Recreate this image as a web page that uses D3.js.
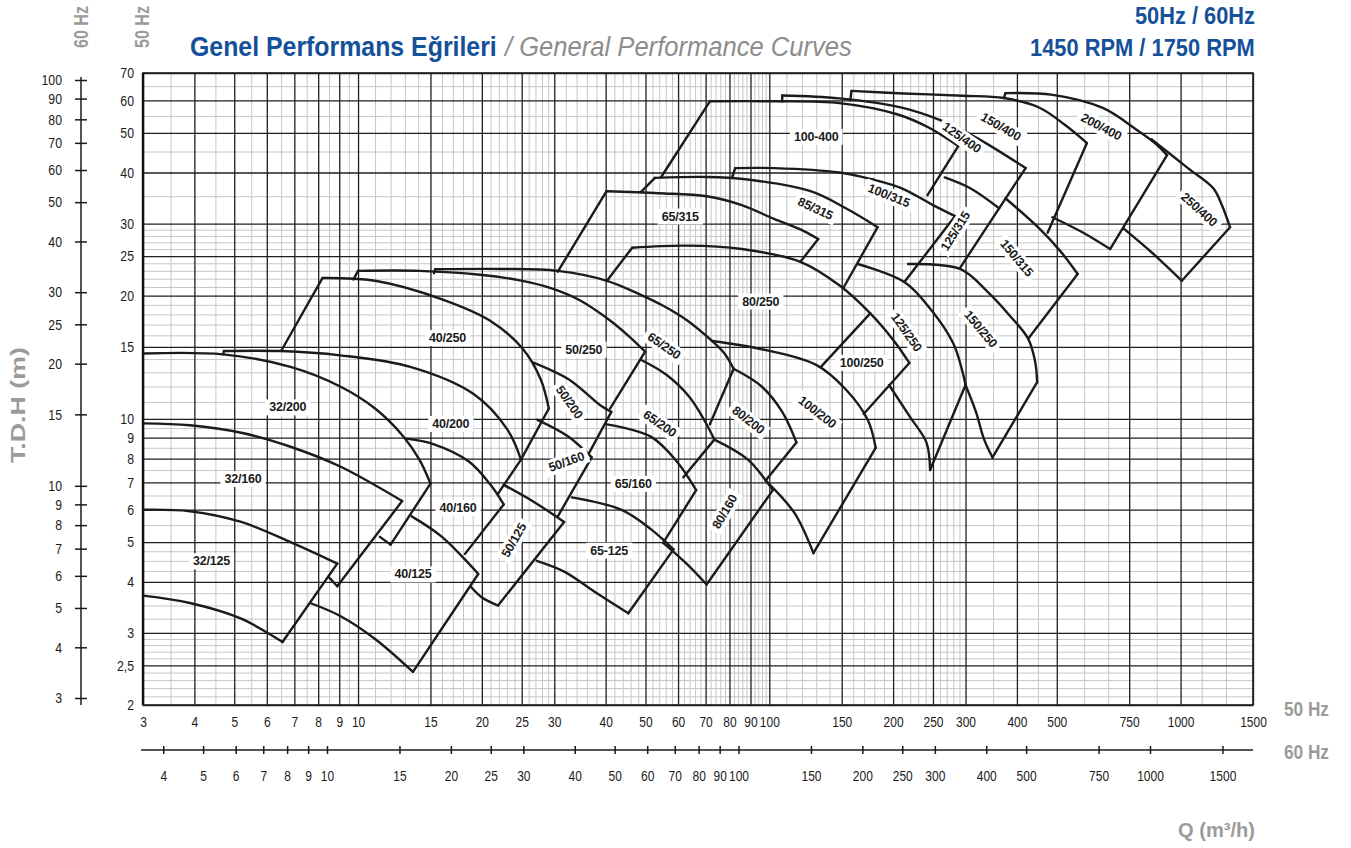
<!DOCTYPE html>
<html><head><meta charset="utf-8">
<script src="https://cdn.jsdelivr.net/npm/d3@7"></script>
<style>body{margin:0;background:#fff}</style>
</head><body>
<svg id="c" width="1351" height="848"></svg>
<script>
// ---------- DATA ----------
const xTicks50 = [3,4,5,6,7,8,9,10,15,20,25,30,40,50,60,70,80,90,100,150,200,250,300,400,500,750,1000,1500];
const yTicks50 = [2,2.5,3,4,5,6,7,8,9,10,15,20,25,30,40,50,60,70];
const xTicks60 = [4,5,6,7,8,9,10,15,20,25,30,40,50,60,70,80,90,100,150,200,250,300,400,500,750,1000,1500];
const yTicks60 = [3,4,5,6,7,8,9,10,15,20,25,30,40,50,60,70,80,90,100];
const xMinor = [3.5,4.5,5.5,6.5,7.5,8.5,9.5,11,12,13,14,16,17,18,19,21,22,23,24,26,27,28,29,
  32,34,36,38,42,44,46,48,52,54,56,58,62,64,66,68,72,74,76,78,82,84,86,88,92,94,96,98,
  110,120,130,140,160,170,180,190,210,220,230,240,260,270,280,290,350,450,583,667,875,1125,1290];
const yMinor = [2.1,2.2,2.3,2.4,2.6,2.7,2.8,2.9,3.25,3.5,3.75,4.25,4.5,4.75,5.5,6.5,7.5,8.5,9.5,
  11,12,13,14,16,17,18,19,21,22,23,24,26,27,28,29,35,45,55,65];

// H-Q curves (Q m3/h @50Hz, H m @50Hz)
const curves = [
  [[3,6.0],[3.9,5.95],[5.2,5.6],[6.85,5.0],[8.9,4.43]],
  [[3,3.7],[3.9,3.55],[5.2,3.25],[6.55,2.85]],
  [[3,9.75],[3.9,9.65],[5.2,9.25],[6.85,8.55],[9.05,7.65],[12.8,6.3]],
  [[3,14.45],[4.7,14.38],[6.85,13.4],[9.05,12.0],[11,10.6],[12.9,9.05],[14.1,7.95],[15,6.95]],
  [[4.72,14.65],[6.5,14.65],[9.05,14.3],[13.4,13.4],[19.1,11.5],[23.1,9.4],[24.9,7.95]],
  [[8.2,22.1],[11,21.75],[16,19.6],[21,17.35],[25.2,14.8],[27.8,12.5],[29.1,10.6]],
  [[13.1,8.95],[15.3,8.67],[18.6,7.87],[21,6.9],[22.6,6.18]],
  [[13.5,5.78],[16,5.15],[19.6,4.18]],
  [[7.65,3.55],[9.05,3.3],[11,2.9],[13.6,2.41]],
  [[10,23.0],[14.1,23.0],[19.8,22.5],[24.75,21.8],[29.3,20.9],[34.6,19.5],[41,17.4],[45.8,15.85],[49.9,14.6]],
  [[15.4,23.2],[22.25,23.25],[30.6,23.0],[40.3,21.75],[48.7,20.1],[55.2,18.9],[62.9,17.45],[72.6,15.5],[77.8,14.45],[81.9,13.26]],
  [[26.6,13.75],[32.5,12.5],[38.8,10.8],[41.3,10.4]],
  [[27.3,9.95],[32.5,9.05],[37,8.05]],
  [[22.6,6.9],[26.9,6.25],[31.7,5.6]],
  [[18.85,3.88],[20.1,3.65],[21.9,3.5]],
  [[48.7,13.95],[56,12.85],[64,11.3],[70,9.8],[73.5,8.9]],
  [[73.5,8.9],[88.6,7.96],[102,6.7]],
  [[40.3,9.7],[51.5,9.05],[59.7,7.85],[66.4,6.7]],
  [[33.1,6.43],[43.6,6.0],[51.5,5.38],[58.5,4.8]],
  [[27.2,4.5],[31.8,4.23],[37.6,3.78],[45.4,3.35]],
  [[55.2,4.98],[62.9,4.43],[70.4,3.94]],
  [[81.9,13.26],[95.8,12.0],[107.5,10.4],[116.4,8.76]],
  [[72.6,15.5],[95.8,14.8],[130,13.55],[153.5,11.8],[173.5,9.95],[181.4,8.5]],
  [[98,7.07],[115,5.9],[128,4.7]],
  [[46.4,26.2],[62.9,26.5],[85.7,26.0],[119,24.2],[148,21.2],[176,18.1],[201,15.5],[219,13.7]],
  [[40.2,36],[53.9,35.6],[70.4,35],[85.7,33.3],[102.7,30.8],[121,28.8],[131.5,27.5]],
  [[52.7,38.8],[70.4,39],[87.6,38.5],[126,36],[153.5,32.7],[183.4,29.4]],
  [[71.7,59.7],[102.7,59.7],[148,59.1],[204.5,55.5],[244,51.5],[288,46.4]],
  [[82.6,41],[102.7,41],[148,40],[177.5,38.5],[210,36.6],[250,33.3],[283,31.3]],
  [[107.5,61.7],[148,60.7],[210,57.6],[265,53.3],[324,48.2],[420,41]],
  [[267,38.9],[308,36.6],[362,32.7]],
  [[158.4,63.3],[212,62.4],[295,61.6],[372,60.8],[455,57.5],[523,52.3],[592,47.2]],
  [[375,34.6],[450,29.4],[510,25.7],[562,22.6]],
  [[375,62.5],[489,61.9],[647,57.5],[783,50.8],[866,47.2],[927,44.1]],
  [[851,48.2],[1042,41],[1201,36.6],[1260,33.3],[1319,29.4]],
  [[488,31.1],[580,28.5],[674,26]],
  [[726,29.2],[851,25.5],[1007,21.75]],
  [[164,23.9],[213,21.6],[246,18.6],[280,15.3],[294,13.2],[300,12.1]],
  [[195.5,12.1],[220,10.1],[241,8.76],[246,7.5]],
  [[217.5,23.9],[291,23.25],[340,20.4],[382,18],[426,15.7],[443,13.8],[448,12.3]],
  [[300,12.1],[318,10.4],[333,8.9],[349,8.05]]
];

// straight boundary lines of the operating ranges
const edges = [
  [[8.9,4.43],[6.55,2.85]], [[12.8,6.3],[8.9,3.9]], [[8.5,4.1],[8.9,3.9]],
  [[15,6.95],[12,4.93]], [[11.3,5.15],[12,4.93]], [[4.7,14.38],[4.72,14.65]],
  [[6.5,14.65],[8.2,22.1]], [[29.1,10.6],[24.9,7.95]], [[24.9,7.95],[21.9,6.57]],
  [[22.6,6.18],[18.2,4.68]], [[19.6,4.18],[13.6,2.41]], [[9.74,21.9],[10,23.0]],
  [[15.3,22.7],[15.4,23.2]], [[49.9,14.6],[41,10.6]], [[41.3,10.4],[36.5,8.27]],
  [[37,8.05],[30.6,5.78]], [[31.7,5.6],[21.9,3.5]], [[81.9,13.26],[71.7,9.7]],
  [[73.5,8.9],[61.8,7.2]], [[66.4,6.7],[55.2,4.98]], [[58.5,4.8],[45.4,3.35]],
  [[102,6.7],[70.4,3.94]], [[116.4,8.76],[98,7.07]], [[181.4,8.5],[128,4.7]],
  [[40.3,21.75],[46.4,26.2]], [[176,18.1],[133.5,13.4]], [[219,13.7],[169.6,10.28]],
  [[40.2,36],[30.6,22.9]], [[131.5,27.5],[119,24.2]], [[48.7,35.8],[52.7,38.8]],
  [[183.4,29.4],[151,20.8]], [[54.6,39],[71.7,59.7]], [[288,46.4],[242.5,35.2]],
  [[81.3,39],[82.6,41]], [[283,31.3],[213,21.6]], [[107.5,59.6],[107.5,61.7]],
  [[420,41],[362,32.7]], [[362,32.7],[291,23.4]], [[157.4,60],[158.4,63.3]],
  [[592,47.2],[475,28.5]], [[562,22.6],[426,15.7]], [[372,60.8],[375,62.5]],
  [[927,44.1],[674,26]], [[1319,29.4],[1007,21.75]], [[300,12.1],[246,7.5]],
  [[448,12.3],[349,8.05]]
];

// pump labels: name, Q, H, rotation
const labels = [
  ["32/125",4.4,4.5,0],["32/160",5.25,7.15,0],["32/200",6.75,10.7,0],
  ["40/250",16.5,15.8,0],["40/200",16.8,9.75,0],["40/160",17.5,6.07,0],["40/125",13.6,4.18,0],
  ["50/250",35.4,14.8,0],["50/200",32.7,11.0,55],["50/160",32.1,7.87,-20],["50/125",23.9,5.06,-60],
  ["65/250",55.5,15.1,35],["65/200",54.2,9.75,35],["65/160",46.7,6.96,0],["65-125",40.8,4.78,0],
  ["80/250",95.3,19.4,0],["80/200",89,9.95,38],["80/160",77.8,5.94,-60],
  ["100/200",131,10.4,38],["100/250",167.6,13.75,0],["125/250",216,16.3,55],["150/250",327,16.6,50],
  ["65/315",60.7,31.3,0],["85/315",129.5,32.7,25],["100/315",195.5,35.2,22],["125/315",283,28.8,-58],
  ["150/315",400,24.75,50],["100-400",130,49,0],["125/400",294,48.7,35],["150/400",366,51.8,30],
  ["200/400",642,51.8,28],["250/400",1111,32.5,42]
];

// ---------- DRAW ----------
const FONT = "'Liberation Sans',Arial,Helvetica,sans-serif";
const BLUE = "#15509a", GREY = "#9b9b9b", INK = "#1b1b1b";
const svg = d3.select('#c');
const x = d3.scaleLog().domain([3,1500]).range([143,1253]);
const y = d3.scaleLog().domain([2,70]).range([705,73]);
const x60 = d3.scaleLog().domain([10,1000]).range([327,1150]);
const y60 = d3.scaleLog().domain([3,100]).range([698,80]);
const plotH = y(2)-y(70), plotW = x(1500)-x(3);

svg.append('rect').attr('width',1351).attr('height',848).attr('fill','#fff');

function grid(vals, vertical, color, w){
  const g = svg.append('g');
  if(vertical){
    g.attr('transform',`translate(0,${y(2)})`)
     .call(d3.axisBottom(x).tickValues(vals).tickSize(-plotH).tickFormat(''));
  } else {
    g.attr('transform',`translate(${x(3)},0)`)
     .call(d3.axisLeft(y).tickValues(vals).tickSize(-plotW).tickFormat(''));
  }
  g.select('.domain').remove();
  g.selectAll('line').attr('stroke',color).attr('stroke-width',w);
}
grid(xMinor,true,'#c6c6c6',1);
grid(yMinor,false,'#c6c6c6',1);
grid(xTicks50,true,'#1f1f1f',1.3);
grid(yTicks50,false,'#1f1f1f',1.3);

svg.append('rect').attr('x',x(3)).attr('y',y(70)).attr('width',plotW).attr('height',plotH)
  .attr('fill','none').attr('stroke','#1f1f1f').attr('stroke-width',1.6);
svg.append('line').attr('x1',x(3)).attr('x2',x(3)).attr('y1',y(70)).attr('y2',y(2))
  .attr('stroke','#111').attr('stroke-width',2.4);

const line = d3.line().x(d=>x(d[0])).y(d=>y(d[1])).curve(d3.curveCatmullRom.alpha(0.5));
const lin = d3.line().x(d=>x(d[0])).y(d=>y(d[1]));
const cg = svg.append('g').attr('fill','none').attr('stroke',INK).attr('stroke-width',2.4)
  .attr('stroke-linejoin','round').attr('stroke-linecap','round');
cg.selectAll('path.c').data(curves).join('path').attr('class','c').attr('d',line);
cg.selectAll('path.e').data(edges).join('path').attr('class','e').attr('d',lin);

// labels
const lg = svg.append('g');
labels.forEach(([t,q,h,a])=>{
  const g = lg.append('g').attr('transform',`translate(${x(q)},${y(h)}) rotate(${a})`);
  const r = g.append('rect').attr('fill','#fff');
  const tx = g.append('text').text(t).attr('text-anchor','middle').attr('dy','0.36em')
    .attr('font-family',FONT).attr('font-weight','bold')
    .attr('font-size',12.5).attr('fill',INK).attr('letter-spacing',-0.2);
  const b = tx.node().getBBox();
  r.attr('x',b.x-4).attr('y',b.y-1).attr('width',b.width+8).attr('height',b.height+2);
});

// axes with condensed tick text
function squeezeTicks(g, s){
  g.selectAll('.tick text').attr('font-family',FONT).attr('font-size',15).attr('fill',INK)
   .each(function(){
     const el = d3.select(this);
     const xx = +el.attr('x') || 0;
     el.attr('x', xx/s).attr('transform',`scale(${s},1)`);
   });
}
const ax = svg.append('g').attr('transform',`translate(0,${y(2)})`)
  .call(d3.axisBottom(x).tickValues(xTicks50).tickSize(0).tickPadding(11).tickFormat(d=>d));
ax.select('.domain').remove(); squeezeTicks(ax,0.8);
const ay = svg.append('g').attr('transform',`translate(${x(3)},0)`)
  .call(d3.axisLeft(y).tickValues(yTicks50).tickSize(0).tickPadding(9).tickFormat(d=>String(d).replace('.',',')));
ay.select('.domain').remove(); squeezeTicks(ay,0.82);

const a60y = svg.append('g').attr('transform','translate(81,0)')
  .call(d3.axisLeft(y60).tickValues(yTicks60).tickSize(6).tickPadding(13).tickFormat(d=>d));
a60y.select('.domain').remove(); squeezeTicks(a60y,0.82);
const a60y2 = svg.append('g').attr('transform','translate(81,0)')
  .call(d3.axisRight(y60).tickValues(yTicks60).tickSize(6).tickFormat(''));
a60y2.select('.domain').remove();
svg.append('line').attr('x1',81).attr('x2',81).attr('y1',y60(100)-3).attr('y2',y(2))
  .attr('stroke',INK).attr('stroke-width',1.5);

const a60x = svg.append('g').attr('transform','translate(0,750)')
  .call(d3.axisBottom(x60).tickValues(xTicks60).tickSize(4).tickPadding(16).tickFormat(d=>d));
a60x.select('.domain').remove(); squeezeTicks(a60x,0.8);
const a60x2 = svg.append('g').attr('transform','translate(0,750)')
  .call(d3.axisTop(x60).tickValues(xTicks60).tickSize(4).tickFormat(''));
a60x2.select('.domain').remove();
svg.append('line').attr('x1',x(3)-2).attr('x2',x(1500)).attr('y1',750).attr('y2',750)
  .attr('stroke',INK).attr('stroke-width',1.5);
[a60y,a60y2,a60x,a60x2].forEach(g=>g.selectAll('.tick line').attr('stroke',INK).attr('stroke-width',1.5));

// titles and side texts, horizontally condensed to the reference widths
function txt(s, xx, yy, o){
  const g = svg.append('g');
  const t = g.append('text').text(s)
    .attr('font-family',FONT).attr('font-weight',o.w||'bold').attr('font-size',o.fs)
    .attr('fill',o.c);
  if(o.it) t.attr('font-style','italic');
  const w = t.node().getComputedTextLength();
  const sc = o.len / w;
  let dx = 0;
  if(o.a==='end') dx = -o.len;
  const rot = o.rot ? ' rotate(-90)' : '';
  g.attr('transform',`translate(${xx},${yy})${rot} translate(${dx},0) scale(${sc},1)`);
  return t;
}
txt('Genel Performans Eğrileri',190,56,{fs:28,c:BLUE,len:307});
txt('/ General Performance Curves',505,56,{fs:28,c:'#8d8d8d',w:'normal',it:true,len:347});
txt('50Hz / 60Hz',1255,24,{fs:23.5,c:BLUE,a:'end',len:120});
txt('1450 RPM / 1750 RPM',1255,56,{fs:23.5,c:BLUE,a:'end',len:225});
txt('60 Hz',88,48,{fs:20,c:GREY,rot:true,len:42});
txt('50 Hz',149,48,{fs:20,c:GREY,rot:true,len:42});
txt('50 Hz',1284,716,{fs:20,c:GREY,len:45});
txt('60 Hz',1284,759,{fs:20,c:GREY,len:45});
txt('Q (m³/h)',1178,837,{fs:21,c:GREY,len:77});
txt('T.D.H (m)',25,463,{fs:20,c:GREY,rot:true,len:116});
</script>
</body></html>
